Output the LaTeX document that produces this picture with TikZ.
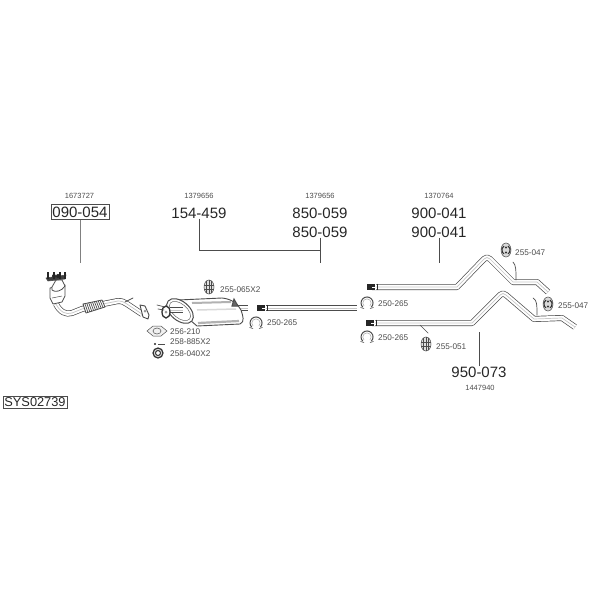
\documentclass[tikz,border=0pt]{standalone}
\usepackage{fontspec}
\usetikzlibrary{calc}
\setmainfont{Liberation Sans}
\definecolor{ink}{gray}{0.3}
\definecolor{leader}{gray}{0.5}
\tikzset{
  x=1pt,y=-1pt,
  big/.style={font=\fontsize{15}{15}\selectfont,text=black!85,inner sep=0pt},
  small/.style={font=\fontsize{7.5}{8}\selectfont,text=ink,inner sep=0pt},
  part/.style={font=\fontsize{8.2}{8}\selectfont,text=ink,inner sep=0pt,anchor=west},
  lead/.style={draw=ink,line width=0.6pt},
  outline/.style={draw=ink,line width=0.6pt,fill=white,line join=round},
  thin part/.style={draw=ink,line width=0.5pt},
  rod/.style={draw=ink,line width=0.7pt,line cap=round},
  pipe/.style={draw=ink,line width=#1,line join=round,
    postaction={draw=white,line width=#1-1.4pt,line join=round},
    postaction={draw=black!22,line width=0.7pt,line join=round}},
  pipe/.default=5pt,
  darkend/.style={draw=black!85,line width=6pt},
  hanger/.pic={
    \draw[draw=ink,line width=0.5pt,fill=black!15] (0,0) ellipse (5 and 7);
    \draw[draw=black!80,line width=1.1pt] (-2,-4) arc (240:120:4.5);
    \draw[draw=black!80,line width=1.1pt] (2,-4) arc (-60:60:4.5);
    \fill[black!80] (0,-2.5) circle (1.1) (0,2.5) circle (1.1);
  },
  palehanger/.pic={
    \draw[draw=ink,line width=0.5pt,fill=black!12] (0,0) ellipse (5 and 7);
    \draw[draw=ink,line width=0.5pt] (-2.5,-6) -- (-2.5,6) (2.5,-6) -- (2.5,6) (0,-7) -- (0,7) (-5,-2) -- (5,-2) (-5,2) -- (5,2);
  },
  clamp/.pic={
    \draw[draw=ink,line width=1pt] (-4.2,4.2) arc (135:405:6);
    \draw[draw=black!30,line width=0.6pt] (-3,3) arc (135:405:4.2);
    \draw[draw=ink,line width=0.6pt] (-6.5,4.5)--(-3,5.5) (6.5,4.5)--(3,5.5);
  },
  endring/.pic={
    \draw[darkend] (0,0) -- (8,0);
    \draw[white,line width=0.9pt] (5,0) -- (8,0);
    \fill[white] (8.2,-3.2) rectangle (9.2,3.2);
    \draw[draw=black!85,line width=0.9pt] (10,-3.4) -- (10,3.4);
  },
}
\begin{document}
\begin{tikzpicture}
\useasboundingbox (0,0) rectangle (600,600);

% part number labels
\node[small] (n1) at (79.5,196) {1673727};
\node[big,draw=ink,line width=0.6pt,inner xsep=1.5pt,inner ysep=2pt] (a) at (80,212) {090-054};
\node[small] (n2) at (199,196) {1379656};
\node[big] (b) at (199,213) {154-459};
\node[small] (n3) at (320,196) {1379656};
\node[big] (c1) at (320,213) {850-059};
\node[big] (c2) at (320,232) {850-059};
\node[small] (n4) at (439,196) {1370764};
\node[big] (d1) at (439,213) {900-041};
\node[big] (d2) at (439,232) {900-041};
\node[big] (e) at (479,372) {950-073};
\node[small] (n5) at (480,388) {1447940};
\node[font=\fontsize{12.8}{13}\selectfont,text=black!85,draw=ink,line width=0.6pt,inner xsep=1.5pt,inner ysep=1.5pt] (sys) at (35,402.5) {SYS02739};

% leaders
\coordinate (ae) at (80,263);
\coordinate (bj) at (199,250);
\coordinate (cj) at (320,250);
\coordinate (ce) at (320,263);
\coordinate (de) at (439,263);
\coordinate (ee) at (479,332);
\draw[lead,draw=leader,line width=0.9pt] (a.south) -- (ae);
\draw[lead] (b.south) -- (bj) -- (cj);
\draw[lead] (c2.south) -- (ce);
\draw[lead] (d2.south) -- (de);
\draw[lead] (e.north) -- (ee);

% catalytic converter and front pipe
\draw[pipe=6pt] (56,304) .. controls (60,312) and (66,315) .. (72,313) -- (82,309) -- (103,304) -- (118,301) .. controls (122,301) and (124,302) .. (127,304) -- (142,314);
\draw[outline,line width=0.8pt] (83,304) -- (102,300) -- (105,307) -- (86,313) -- cycle;
\foreach \t in {0.1,0.2,...,0.9}
  \draw[thin part,line width=0.7pt] ($(83,304)!\t!(102,300)$) -- ($(86,313)!\t!(105,307)$);
\draw[outline,line width=0.8pt] (50,288) -- (65,285) -- (65,296) -- (62,302) -- (53,304) -- (50,298) -- cycle;
\draw[thin part] (52,298) -- (62,296);
\draw[outline,line width=0.8pt] (52,287) -- (56,280) -- (62,280) -- (65,286) .. controls (62,291) and (55,293) .. (52,290) -- cycle;
\draw[outline,fill=black!75] (46,278) -- (66,275) -- (65,279) -- (48,281) -- cycle;
\foreach \px in {48,54,60,65}
  \draw[draw=black!85,line width=1.1pt] (\px,272) -- (\px,279);
\fill[black!85] (54,276) circle (2) (58,276) circle (2);
\draw[rod] (125,302) -- (133,298);
\draw[outline,line width=0.9pt] (140,305) -- (145,306) -- (149,315) -- (148,319) -- (143,317) -- cycle;
\fill[black!40] (145,311) circle (1.5);

% rear muffler
\draw[pipe=5.5pt] (236,308) -- (248,308);
\draw[outline,line width=0.9pt] (178,300) -- (222,298) .. controls (232,299) and (238,304) .. (241,310) .. controls (243,316) and (245,322) .. (240,324) -- (197,326) -- (190,320) -- cycle;
\draw[draw=black!30,line width=2pt] (192,303) -- (231,302);
\draw[draw=black!30,line width=2.2pt] (198,323) -- (239,321);
\draw[draw=black!15,line width=1.5pt] (197,310) -- (236,309);
\draw[outline,line width=1pt,rotate around={-40:(180,311)}] (180,311) ellipse (15.5 and 9.5);
\draw[thin part,draw=black!60,rotate around={-40:(180,311)}] (180,311) ellipse (12.5 and 7);
\draw[pipe=5.5pt] (170,310) -- (183,310);
\draw[draw=black!80,line width=1.3pt,fill=white] (166,312) ellipse (4 and 6);
\fill[black!40] (166,312) circle (1.5);
\draw[rod] (157,305) -- (165,307);
\draw[rod] (158,309) -- (164,310);
\draw[rod,line width=1pt,fill=black!60] (232,306) -- (234,299) -- (238,306) -- cycle;

% muffler outlet pipe
\draw[pipe=6pt] (262,308) -- (357,308);
\pic at (257,308) {endring};

% upper rear pipe
\draw[pipe=6pt] (372,287) -- (457,287) -- (484,259) .. controls (486,257) and (488,257) .. (490,259) -- (513,282) -- (537,282) -- (548,292);
\pic at (367,287) {endring};
\draw[rod] (513,262) .. controls (516,265) and (516,270) .. (516,280);

% lower rear pipe
\draw[pipe=6pt] (372,323) -- (472,323) -- (500,295) .. controls (502,293) and (504,293) .. (506,295) -- (534,319) -- (562,318) -- (575,327);
\pic at (366,323) {endring};
\draw[rod] (533,298) .. controls (537,300) and (537,305) .. (537,315);
\draw[rod] (420,325) -- (428,333);

% fittings
\pic at (209,287) {palehanger};
\node[part] (p1) at (220,290) {255-065X2};
\draw[thin part,fill=black!6] (147,331) -- (153,326) -- (161,326) -- (167,331) -- (161,336) -- (153,336) -- cycle;
\draw[thin part] (157,331) ellipse (4 and 3);
\node[part] (p2) at (170,332) {256-210};
\node[part] (p3) at (170,342) {258-885X2};
\draw[draw=ink,line width=0.6pt] (158,344) -- (165,344);
\fill[black!85] (155,344) circle (1.2);
\draw[draw=black!80,line width=1.2pt,fill=black!15] (158,353) circle (5);
\draw[draw=black!80,line width=1pt,fill=white] (158,353) circle (2.5);
\node[part] (p4) at (170,354) {258-040X2};
\pic at (256,323) {clamp};
\node[part] (p5) at (267,323) {250-265};
\pic at (367,303) {clamp};
\node[part] (p6) at (378,304) {250-265};
\pic at (367,337) {clamp};
\node[part] (p7) at (378,338) {250-265};
\pic at (426,344) {palehanger};
\node[part] (p8) at (436,347) {255-051};
\pic at (506,250) {hanger};
\node[part] (p9) at (515,253) {255-047};
\pic at (548,304) {hanger};
\node[part] (p10) at (558,306) {255-047};
\end{tikzpicture}
\end{document}
